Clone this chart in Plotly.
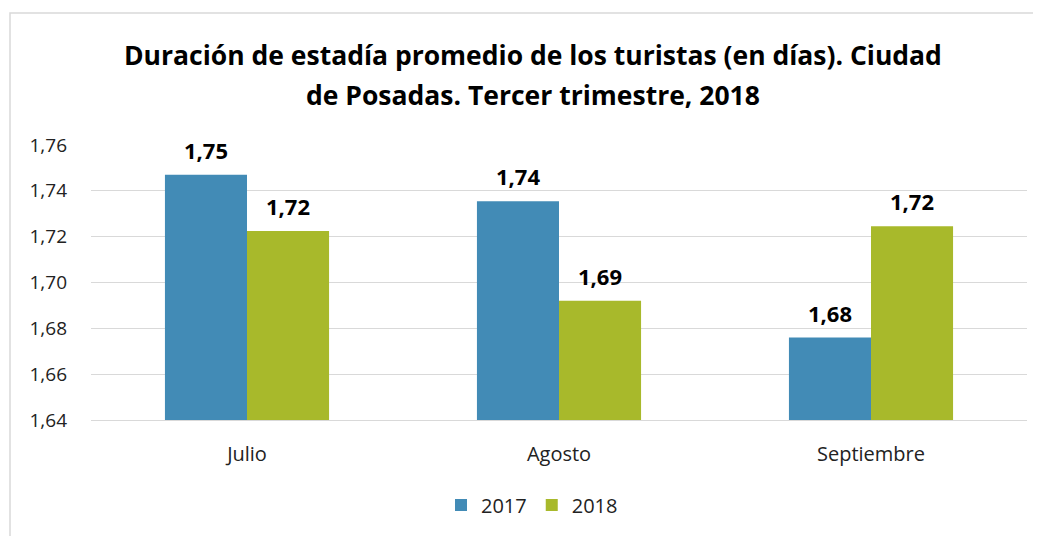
import plotly.graph_objects as go

months = ["Julio", "Agosto", "Septiembre"]
values_2017 = [1.747, 1.7355, 1.676]
values_2018 = [1.7225, 1.692, 1.7245]
y_ticks = [1.64, 1.66, 1.68, 1.70, 1.72, 1.74, 1.76]
title_lines = [
    "Duración de estadía promedio de los turistas (en días). Ciudad",
    "de Posadas. Tercer trimestre, 2018",
]

FONT = "Open Sans"
# page offset from default body margin
OFF = 8
PLOT_L, PLOT_R, PLOT_T, PLOT_B = 91, 1027, 145, 420
PW, PH = PLOT_R - PLOT_L, PLOT_B - PLOT_T
BAR_PX = 82


def px_to_paper_y(y):
    return (PLOT_B - y) / PH


def px_to_paper_x(x):
    return (x - PLOT_L) / PW


fig = go.Figure()
annotations = []
series = [("2017", values_2017, "#428BB6", -BAR_PX / 2),
          ("2018", values_2018, "#A8B92B", BAR_PX / 2)]
for name, vals, color, shift in series:
    fig.add_trace(go.Bar(
        x=months, y=vals, name=name,
        marker=dict(color=color, line=dict(width=0)),
    ))
    # value labels above the bars
    for m, v in zip(months, vals):
        annotations.append(dict(
            x=m, y=v, xref="x", yref="y", text="<b>%s</b>" % ("%.2f" % v).replace(".", ","),
            xshift=shift, yshift=25, xanchor="center", yanchor="middle",
            showarrow=False, font=dict(family=FONT, size=22, color="#000000"),
        ))

annotations += [
    dict(text="<b>%s</b>" % line, x=px_to_paper_x(533), y=px_to_paper_y(yc),
         xref="paper", yref="paper", xanchor="center", yanchor="middle",
         showarrow=False, font=dict(family=FONT, size=26.5, color="#000000"))
    for line, yc in zip(title_lines, [55, 95])
]

fig.update_layout(
    width=1041, height=536,
    separators=",.",
    font=dict(family=FONT, size=19, color="#222222"),
    paper_bgcolor="white", plot_bgcolor="white",
    margin=dict(l=PLOT_L - OFF, r=1041 + OFF - PLOT_R, t=PLOT_T - OFF, b=536 + OFF - PLOT_B),
    bargap=0.474, bargroupgap=0,
    annotations=annotations,
    xaxis=dict(showgrid=False, showline=True, linecolor="#D9D9D9", ticks="",
               ticklabelstandoff=16, tickfont=dict(size=20)),
    yaxis=dict(range=[1.64, 1.76], tickvals=y_ticks, tickformat=".2f",
               showgrid=True, gridcolor="#D9D9D9", gridwidth=1.3,
               zeroline=False, showline=False, ticks="", ticklabelstandoff=23,
               tickfont=dict(size=19)),
    legend=dict(orientation="h", x=px_to_paper_x(532), xanchor="center",
                y=px_to_paper_y(505), yanchor="middle",
                font=dict(size=20)),
    shapes=[dict(type="rect", xref="paper", yref="paper",
                 x0=px_to_paper_x(10), x1=1.1, y0=-0.5, y1=px_to_paper_y(13),
                 line=dict(color="#D9D9D9", width=1.5), layer="below")],
)

fig.write_html("out.html")
